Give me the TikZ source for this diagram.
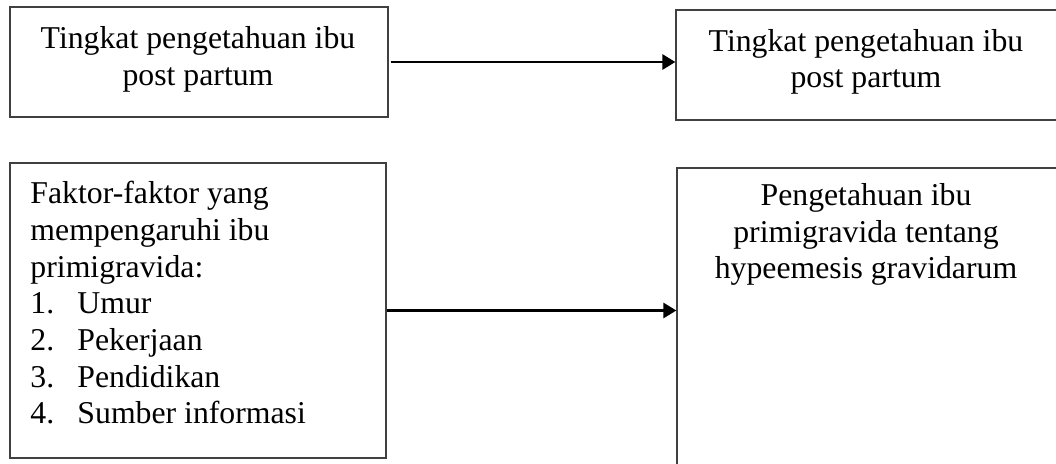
\documentclass[tikz,border=0pt]{standalone}
\usepackage{fontspec}
\setmainfont{Liberation Serif}
\usetikzlibrary{arrows.meta,fit}
\begin{document}
\begin{tikzpicture}[x=0.4pt,y=-0.4pt,
  box/.style={draw=black!75, line width=0.5pt, rectangle, inner sep=0pt},
  txt/.style={anchor=base, inner sep=0pt, font=\fontsize{12.7}{15}\selectfont},
  ltxt/.style={txt, anchor=base west},
  conn/.style={line width=1.15pt, -{Triangle[length=5.2pt,width=6pt]}}]
\useasboundingbox (0,0) rectangle (1056,463);
\clip (0,0) rectangle (1056,463);
% corner coordinates
\coordinate (a1) at (10,7);   \coordinate (a2) at (388,117);
\coordinate (b1) at (676,10); \coordinate (b2) at (1058,120);
\coordinate (c1) at (10,163); \coordinate (c2) at (386,458);
\coordinate (d1) at (677,168);\coordinate (d2) at (1058,470);
% boxes
\node[box, fit=(a1)(a2)] (A) {};
\node[box, fit=(b1)(b2)] (B) {};
\node[box, fit=(c1)(c2)] (C) {};
\node[box, fit=(d1)(d2)] (D) {};
% texts box A
\node[txt] (tA1) at (198,48) {Tingkat pengetahuan ibu};
\node[txt] (tA2) at (198,85) {post partum};
% texts box B
\node[txt] (tB1) at (866,51) {Tingkat pengetahuan ibu};
\node[txt] (tB2) at (866,87) {post partum};
% texts box C
\node[ltxt] (tC1) at (30,203) {Faktor-faktor yang};
\node[ltxt] (tC2) at (30,240) {mempengaruhi ibu};
\node[ltxt] (tC3) at (30,277) {primigravida:};
\node[ltxt] (n1) at (30,313) {1.}; \node[ltxt] (i1) at (77,313) {Umur};
\node[ltxt] (n2) at (30,350) {2.}; \node[ltxt] (i2) at (77,350) {Pekerjaan};
\node[ltxt] (n3) at (30,387) {3.}; \node[ltxt] (i3) at (77,387) {Pendidikan};
\node[ltxt] (n4) at (30,423) {4.}; \node[ltxt] (i4) at (77,423) {Sumber informasi};
% texts box D
\node[txt] (tD1) at (866,205) {Pengetahuan ibu};
\node[txt] (tD2) at (866,242) {primigravida tentang};
\node[txt] (tD3) at (866,278) {hypeemesis gravidarum};
% connectors
\draw[conn] (A.east) ++(2,0) coordinate (s1) (s1) -- (s1 -| B.west);
\draw[conn] (C.east) -- (C.east -| D.west);
\end{tikzpicture}
\end{document}
